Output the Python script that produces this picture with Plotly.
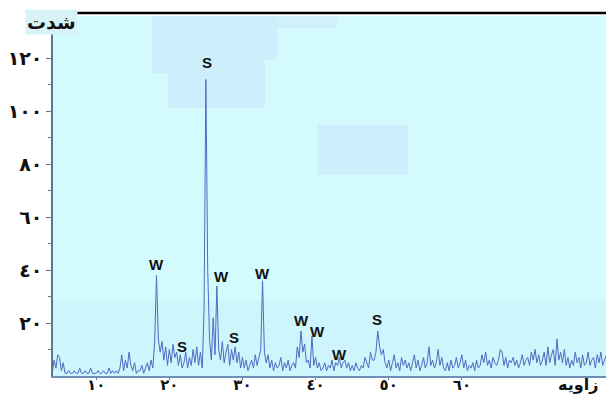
import numpy as np
import plotly.graph_objects as go

# Diffraction scan: 2-theta from 4 to 80 degrees, 0.25 degree step
angle_start = 4.0
angle_step = 0.25

# Intensity per step, four readings per degree
intensity = [
    1, 6, 3, 8,      # 4
    7, 2, 5, 1,      # 5
    1, 2, 1, 1,      # 6
    2, 1, 1, 3,      # 7
    1, 1, 2, 1,      # 8
    1, 3, 1, 1,      # 9
    1, 2, 1, 1,      # 10
    2, 1, 1, 3,      # 11
    1, 2, 1, 2,      # 12
    1, 3, 8, 2,      # 13
    6, 3, 9, 4,      # 14
    2, 5, 1, 2,      # 15
    2, 4, 1, 3,      # 16
    5, 2, 6, 3,      # 17
    13, 38, 14, 9,   # 18
    13, 6, 11, 4,    # 19
    10, 5, 12, 7,    # 20
    9, 4, 8, 3,      # 21
    5, 9, 3, 7,      # 22
    4, 10, 5, 11,    # 23
    4, 9, 3, 25,     # 24
    112, 40, 14, 6,  # 25
    22, 8, 34, 10,   # 26
    6, 13, 5, 9,     # 27
    12, 4, 10, 6,    # 28
    11, 5, 9, 3,     # 29
    7, 3, 6, 2,      # 30
    4, 6, 3, 8,      # 31
    4, 7, 10, 36,    # 32
    9, 5, 8, 3,      # 33
    6, 2, 5, 3,      # 34
    4, 7, 2, 5,      # 35
    3, 6, 2, 4,      # 36
    5, 3, 11, 7,     # 37
    17, 9, 12, 5,    # 38
    6, 3, 15, 4,     # 39
    7, 3, 5, 2,      # 40
    3, 5, 2, 4,      # 41
    3, 6, 2, 5,      # 42
    4, 7, 3, 5,      # 43
    6, 3, 5, 2,      # 44
    4, 2, 5, 3,      # 45
    2, 4, 3, 7,      # 46
    5, 3, 9, 6,      # 47
    6, 9, 17, 11,    # 48
    8, 10, 5, 3,     # 49
    6, 2, 5, 8,      # 50
    3, 5, 2, 7,      # 51
    4, 6, 3, 5,      # 52
    2, 5, 8, 3,      # 53
    6, 2, 4, 7,      # 54
    3, 5, 11, 4,     # 55
    6, 3, 5, 10,     # 56
    4, 7, 3, 2,      # 57
    5, 2, 6, 3,      # 58
    4, 7, 3, 5,      # 59
    8, 3, 6, 2,      # 60
    4, 3, 5, 2,      # 61
    6, 3, 4, 8,      # 62
    5, 9, 4, 6,      # 63
    3, 7, 5, 4,      # 64
    6, 10, 9, 4,     # 65
    7, 3, 6, 5,      # 66
    7, 4, 6, 3,      # 67
    5, 8, 4, 6,      # 68
    7, 4, 9, 6,      # 69
    10, 5, 8, 4,     # 70
    6, 9, 4, 11,     # 71
    5, 8, 10, 4,     # 72
    14, 6, 9, 5,     # 73
    10, 4, 7, 3,     # 74
    6, 4, 9, 5,      # 75
    7, 3, 8, 4,      # 76
    5, 9, 4, 6,      # 77
    7, 3, 8, 5,      # 78
    9, 4, 6, 8,      # 79
    5,               # 80
]
angle = angle_start + angle_step * np.arange(len(intensity))

# Phase markers (S / W) with their label positions
phase_text = ["S", "W", "S", "W", "S", "W", "W", "W", "W", "S"]
phase_x = [25.1, 18.3, 21.75, 27.1, 28.85, 32.8, 38.1, 40.3, 43.2, 48.4]
phase_y = [118.5, 42.3, 11.0, 37.5, 14.7, 38.9, 20.8, 17.0, 8.3, 21.5]

# Axis ticks in Arabic-Indic digits
x_ticks = [10, 20, 30, 40, 50, 60]
x_tick_text = ["١٠", "٢٠", "٣٠", "٤٠", "٥٠", "٦٠"]
y_ticks = [20, 40, 60, 80, 100, 120]
y_tick_text = ["٢٠", "٤٠", "٦٠", "٨٠", "١٠٠", "١٢٠"]
y_minor = [10, 30, 50, 70, 90, 110, 130]

W, H = 606, 394
ML, MR, MT, MB = 53, 0, 16, 18
PW, PH = W - ML - MR, H - MT - MB


def px(x):
    return (x - ML) / PW


def py(y):
    return 1 - (y - MT) / PH


fig = go.Figure()
fig.add_trace(go.Scatter(
    x=angle, y=intensity, mode="lines",
    line=dict(color="#4d6cc2", width=1),
    hoverinfo="skip", showlegend=False,
))

for t, xx, yy in zip(phase_text, phase_x, phase_y):
    fig.add_annotation(
        x=xx, y=yy, xref="x", yref="y", text=t, showarrow=False,
        font=dict(family="Liberation Sans", size=15, color="#111111", weight="bold"),
    )

# Shaded patches in the plotting background
patch_col = "#cdeefb"
patches = [
    (152, 277, 16, 60, patch_col),
    (152, 168, 60, 73, patch_col),
    (168, 265, 60, 108, patch_col),
    (277, 337, 16, 28, "#d0f1fb"),
    (318, 408, 125, 175, patch_col),
]
shapes = []
for x0, x1, y0, y1, c in patches:
    shapes.append(dict(type="rect", xref="paper", yref="paper",
                       x0=px(x0), x1=px(x1), y0=py(y1), y1=py(y0),
                       fillcolor=c, line=dict(width=0), layer="below"))
shapes.append(dict(type="rect", xref="paper", yref="paper",
                   x0=0, x1=1, y0=py(376), y1=py(300),
                   fillcolor="rgba(190,225,248,0.25)", line=dict(width=0), layer="below"))
# Rule across the top of the frame
shapes.append(dict(type="line", xref="paper", yref="paper",
                   x0=px(51), x1=1.0, y0=py(13), y1=py(13),
                   line=dict(color="#000000", width=2.5), layer="above"))

fig.add_annotation(x=px(51), y=py(22), xref="paper", yref="paper", text="شدت",
                   showarrow=False, bgcolor="#d8f3f8", xanchor="center", yanchor="middle",
                   font=dict(family="DejaVu Sans", size=19, color="#111111", weight="bold"))
fig.add_annotation(x=px(578), y=py(385), xref="paper", yref="paper", text="زاویه",
                   showarrow=False, xanchor="center", yanchor="middle",
                   font=dict(family="DejaVu Sans", size=16, color="#111111", weight="bold"))

fig.update_layout(
    width=W, height=H,
    margin=dict(l=ML, r=MR, t=MT, b=MB, autoexpand=False),
    paper_bgcolor="#ffffff",
    plot_bgcolor="#d3fbfe",
    shapes=shapes,
    xaxis=dict(
        range=[4.1, 79.7], showgrid=False, zeroline=False, automargin=False,
        tickvals=x_ticks, ticktext=x_tick_text,
        ticks="outside", ticklen=2, tickcolor="#6080a0",
        ticklabelstandoff=-8,
        showline=True, linecolor="#6f8fb8", linewidth=1.5,
        tickfont=dict(family="DejaVu Sans", size=15, color="#111111", weight="bold"),
    ),
    yaxis=dict(
        range=[0, 136], showgrid=False, zeroline=False, automargin=False,
        tickvals=y_ticks, ticktext=y_tick_text,
        ticks="outside", ticklen=5, tickcolor="#5a7890",
        minor=dict(tickvals=y_minor, ticks="outside", ticklen=3, tickcolor="#5a7890"),
        showline=True, linecolor="#5a7890", linewidth=1.5,
        tickfont=dict(family="DejaVu Sans", size=19, color="#111111", weight="bold"),
    ),
)

fig.write_html("out.html", config=dict(displayModeBar=False))
